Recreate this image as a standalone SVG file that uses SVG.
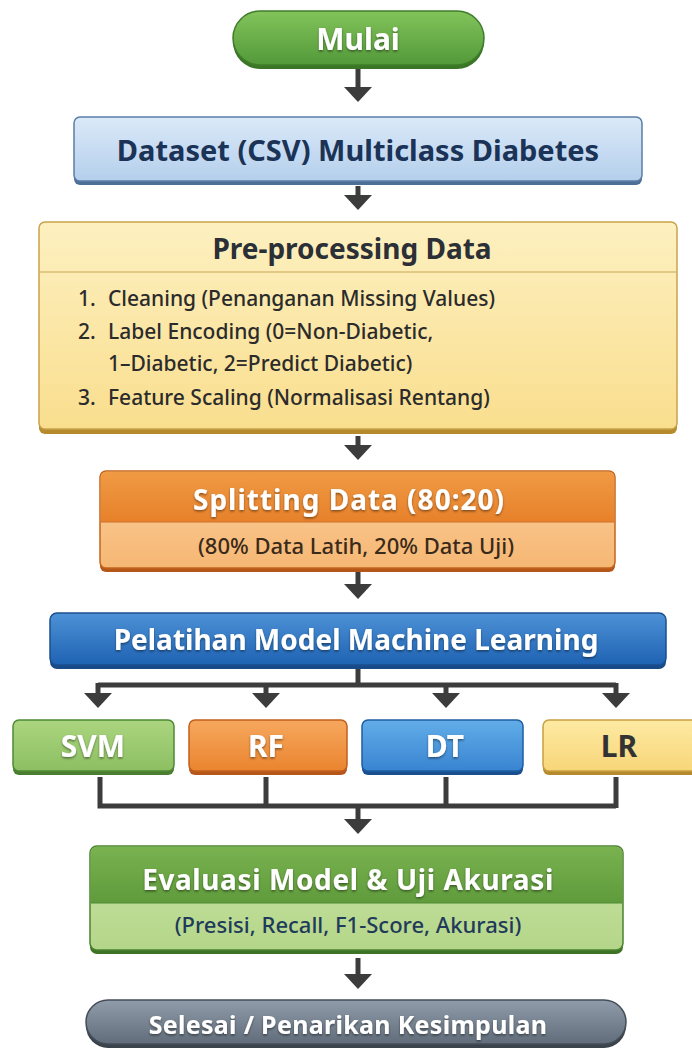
<svg xmlns="http://www.w3.org/2000/svg" width="692" height="1049" viewBox="0 0 692 1049">
  <defs>
    <style>
      .t { font-family: "Noto Sans", "Open Sans", "Liberation Sans", sans-serif; font-weight: 700; text-anchor: middle; }
      .w { fill: #ffffff; filter: url(#ts); }
      .h { font-size: 28px; }
      .b { font-size: 30px; }
      .sub { font-family: "Noto Sans", "Open Sans", "Liberation Sans", sans-serif; font-size: 22px; font-weight: 500; text-anchor: middle; }
      .li { font-family: "Noto Sans", "Open Sans", "Liberation Sans", sans-serif; font-size: 21px; font-weight: 500; fill: #2b2b2b; }
      .conn { fill: none; stroke: #3c3c3c; stroke-width: 5; }
    </style>
    <filter id="ts" x="-10%" y="-30%" width="120%" height="160%">
      <feDropShadow dx="0" dy="1.5" stdDeviation="1" flood-color="#000" flood-opacity="0.45"/>
    </filter>
    <marker id="ah" viewBox="0 0 15 28" markerWidth="15" markerHeight="28" refX="12" refY="14" orient="auto" markerUnits="userSpaceOnUse">
      <path d="M0,0 L15,14 L0,28 z" fill="#3c3c3c"/>
    </marker>
    <linearGradient id="gGreen" x1="0" y1="0" x2="0" y2="1">
      <stop offset="0" stop-color="#82c35a"/><stop offset="1" stop-color="#53993a"/>
    </linearGradient>
    <linearGradient id="gLightBlue" x1="0" y1="0" x2="0" y2="1">
      <stop offset="0" stop-color="#dbe9f8"/><stop offset="1" stop-color="#b4cfec"/>
    </linearGradient>
    <linearGradient id="gYellow" x1="0" y1="0" x2="0" y2="1">
      <stop offset="0" stop-color="#fdf0c0"/><stop offset="1" stop-color="#f9de8e"/>
    </linearGradient>
    <linearGradient id="gOrangeTop" x1="0" y1="0" x2="0" y2="1">
      <stop offset="0" stop-color="#f09a44"/><stop offset="1" stop-color="#e7812a"/>
    </linearGradient>
    <linearGradient id="gOrangeLow" x1="0" y1="0" x2="0" y2="1">
      <stop offset="0" stop-color="#fbcf9c"/><stop offset="1" stop-color="#f6b774"/>
    </linearGradient>
    <linearGradient id="gBlue" x1="0" y1="0" x2="0" y2="1">
      <stop offset="0" stop-color="#4d92d6"/><stop offset="1" stop-color="#1e62b3"/>
    </linearGradient>
    <linearGradient id="gSvm" x1="0" y1="0" x2="0" y2="1">
      <stop offset="0" stop-color="#abd57f"/><stop offset="1" stop-color="#8dbf62"/>
    </linearGradient>
    <linearGradient id="gRf" x1="0" y1="0" x2="0" y2="1">
      <stop offset="0" stop-color="#f6a85e"/><stop offset="1" stop-color="#ea842f"/>
    </linearGradient>
    <linearGradient id="gDt" x1="0" y1="0" x2="0" y2="1">
      <stop offset="0" stop-color="#62ade8"/><stop offset="1" stop-color="#3984d1"/>
    </linearGradient>
    <linearGradient id="gLr" x1="0" y1="0" x2="0" y2="1">
      <stop offset="0" stop-color="#fdeaa3"/><stop offset="1" stop-color="#f8d679"/>
    </linearGradient>
    <linearGradient id="gEvalTop" x1="0" y1="0" x2="0" y2="1">
      <stop offset="0" stop-color="#79b24f"/><stop offset="1" stop-color="#5f9b3c"/>
    </linearGradient>
    <linearGradient id="gEvalLow" x1="0" y1="0" x2="0" y2="1">
      <stop offset="0" stop-color="#c9e3a5"/><stop offset="1" stop-color="#b4d689"/>
    </linearGradient>
    <linearGradient id="gGray" x1="0" y1="0" x2="0" y2="1">
      <stop offset="0" stop-color="#909ca9"/><stop offset="1" stop-color="#606c79"/>
    </linearGradient>
  </defs>

  <rect width="692" height="1049" fill="#ffffff"/>

  <!-- connectors -->
  <g id="connectors">
    <line class="conn" x1="358" y1="68" x2="358" y2="99" marker-end="url(#ah)"/>
    <line class="conn" x1="358" y1="186" x2="358" y2="207" marker-end="url(#ah)"/>
    <line class="conn" x1="358" y1="436" x2="358" y2="457" marker-end="url(#ah)"/>
    <line class="conn" x1="358" y1="572" x2="358" y2="596" marker-end="url(#ah)"/>
    <path class="conn" d="M358,668 V685 M98,685 H616"/>
    <line class="conn" x1="98" y1="683" x2="98" y2="705" marker-end="url(#ah)"/>
    <line class="conn" x1="266" y1="683" x2="266" y2="705" marker-end="url(#ah)"/>
    <line class="conn" x1="446" y1="683" x2="446" y2="705" marker-end="url(#ah)"/>
    <line class="conn" x1="616" y1="683" x2="616" y2="705" marker-end="url(#ah)"/>
    <path class="conn" d="M100,777 V806 H616 M616,777 V808 M266,777 V806 M446,777 V806"/>
    <line class="conn" x1="358" y1="806" x2="358" y2="831" marker-end="url(#ah)"/>
    <line class="conn" x1="358" y1="958" x2="358" y2="986" marker-end="url(#ah)"/>
  </g>

  <!-- start -->
  <g id="mulai">
    <rect x="233" y="15" width="251" height="54" rx="27" fill="#3b7526"/>
    <rect x="233" y="11" width="251" height="54" rx="27" fill="url(#gGreen)" stroke="#3f7d2a" stroke-width="1.5"/>
    <text class="t w b" x="358" y="50">Mulai</text>
  </g>

  <g id="dataset">
    <rect x="74" y="121" width="568" height="64" rx="6" fill="#4d6f96"/>
    <rect x="74" y="117" width="568" height="64" rx="6" fill="url(#gLightBlue)" stroke="#5b7ea6" stroke-width="1.5"/>
    <text class="t" x="358" y="161" font-size="29" fill="#1b3357">Dataset (CSV) Multiclass Diabetes</text>
  </g>

  <g id="preprocessing">
    <rect x="39" y="226" width="638" height="208" rx="6" fill="#b58a2c"/>
    <rect x="39" y="222" width="638" height="207" rx="6" fill="url(#gYellow)" stroke="#c9a24a" stroke-width="1.5"/>
    <line x1="40" y1="272" x2="676" y2="272" stroke="#c9a658" stroke-width="1.2"/>
    <text class="t h" x="352" y="259" fill="#2b2f36">Pre-processing Data</text>
    <text class="li" x="78" y="306">1.</text>
    <text class="li" x="108" y="306">Cleaning (Penanganan Missing Values)</text>
    <text class="li" x="78" y="339">2.</text>
    <text class="li" x="108" y="339">Label Encoding (0=Non-Diabetic,</text>
    <text class="li" x="108" y="371">1–Diabetic, 2=Predict Diabetic)</text>
    <text class="li" x="78" y="405">3.</text>
    <text class="li" x="108" y="405">Feature Scaling (Normalisasi Rentang)</text>
  </g>

  <g id="splitting">
    <rect x="100" y="475" width="515" height="97" rx="6" fill="#b5561a"/>
    <rect x="100" y="471" width="515" height="97" rx="6" fill="url(#gOrangeLow)" stroke="#c4651c" stroke-width="1.5"/>
    <path d="M100.75,522 V477 a5.25,5.25 0 0 1 5.25,-5.25 H609 a5.25,5.25 0 0 1 5.25,5.25 V522 z" fill="url(#gOrangeTop)"/>
    <line x1="101" y1="522" x2="614" y2="522" stroke="#d2712a" stroke-width="1.2"/>
    <text class="t w h" x="349" y="510" letter-spacing="1">Splitting Data (80:20)</text>
    <text class="sub" x="356" y="554" font-size="23" fill="#3a2a1a">(80% Data Latih, 20% Data Uji)</text>
  </g>

  <g id="pelatihan">
    <rect x="50" y="617" width="616" height="52" rx="7" fill="#174a86"/>
    <rect x="50" y="613" width="616" height="52" rx="7" fill="url(#gBlue)" stroke="#1b4f8f" stroke-width="1.5"/>
    <text class="t w h" x="356" y="650">Pelatihan Model Machine Learning</text>
  </g>

  <g id="svm">
    <rect x="13" y="724" width="161" height="51" rx="6" fill="#4a7d30"/>
    <rect x="13" y="720" width="161" height="51" rx="6" fill="url(#gSvm)" stroke="#4e8a36" stroke-width="1.5"/>
    <text class="t w b" x="93" y="757">SVM</text>
  </g>

  <g id="rf">
    <rect x="189" y="724" width="158" height="51" rx="6" fill="#b5561a"/>
    <rect x="189" y="720" width="158" height="51" rx="6" fill="url(#gRf)" stroke="#c25f1c" stroke-width="1.5"/>
    <text class="t w b" x="266" y="757">RF</text>
  </g>

  <g id="dt">
    <rect x="362" y="724" width="161" height="51" rx="6" fill="#1a4f8f"/>
    <rect x="362" y="720" width="161" height="51" rx="6" fill="url(#gDt)" stroke="#1e5da3" stroke-width="1.5"/>
    <text class="t w b" x="445" y="757">DT</text>
  </g>

  <g id="lr">
    <rect x="543" y="724" width="160" height="51" rx="6" fill="#b58a2c"/>
    <rect x="543" y="720" width="160" height="51" rx="6" fill="url(#gLr)" stroke="#c8a040" stroke-width="1.5"/>
    <text class="t b" x="619" y="757" fill="#333333">LR</text>
  </g>

  <g id="evaluasi">
    <rect x="90" y="850" width="533" height="104" rx="7" fill="#3e7326"/>
    <rect x="90" y="846" width="533" height="104" rx="7" fill="url(#gEvalLow)" stroke="#4a8330" stroke-width="1.5"/>
    <path d="M90.75,903 V853 a6.25,6.25 0 0 1 6.25,-6.25 H616 a6.25,6.25 0 0 1 6.25,6.25 V903 z" fill="url(#gEvalTop)"/>
    <line x1="91" y1="903" x2="622" y2="903" stroke="#4f8a33" stroke-width="1.2"/>
    <text class="t w h" x="348" y="890" letter-spacing="0.6">Evaluasi Model &amp; Uji Akurasi</text>
    <text class="sub" x="348" y="933" fill="#1f3a5a">(Presisi, Recall, F1-Score, Akurasi)</text>
  </g>

  <g id="selesai">
    <rect x="86" y="1004" width="540" height="44" rx="22" fill="#3a424c"/>
    <rect x="86" y="1000" width="540" height="44" rx="22" fill="url(#gGray)" stroke="#444e59" stroke-width="1.5"/>
    <text class="t w" x="348" y="1034" font-size="25" letter-spacing="0.3">Selesai / Penarikan  Kesimpulan</text>
  </g>
</svg>
